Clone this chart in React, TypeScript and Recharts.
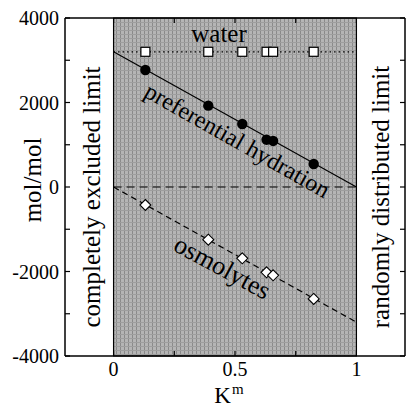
import { ComposedChart, Line, Scatter, XAxis, YAxis, ReferenceArea } from 'recharts';

// measured points (K^m vs mol/mol)
const kValues = [0.131, 0.39, 0.53, 0.63, 0.657, 0.824];
const waterValues = [3200, 3200, 3200, 3200, 3200, 3200];
const hydrationValues = [2770, 1925, 1490, 1120, 1090, 545];
const osmolyteValues = [-426, -1247, -1688, -2020, -2090, -2650];

// straight reference lines over 0..1
const fitK = [0, 1];
const waterFit = [3200, 3200];
const hydrationFit = [3200, 0];
const zeroFit = [0, 0];
const osmolyteFit = [0, -3200];

const xTicks = [0, 0.25, 0.5, 0.75, 1];
const xTickLabels = ['0', '0.5', '1'];
const yTicks = [-4000, -3000, -2000, -1000, 0, 1000, 2000, 3000, 4000];
const yTickLabels = [-4000, -2000, 0, 2000, 4000];

const FONT = "'Liberation Serif', 'Times New Roman', Times, 'Noto Serif', 'DejaVu Serif', serif";

const toPoints = (xs: number[], ys: number[]) => xs.map((x, i) => ({ x, y: ys[i] }));

const BottomTick = ({ x, y, payload }: any) => {
  const label = String(payload.value);
  return (
    <g>
      <line x1={x} x2={x} y1={y} y2={y - 5} stroke="#000" strokeWidth={1.2} />
      {xTickLabels.includes(label) && (
        <text x={x} y={y + 20} textAnchor="middle" fontSize={20} fontFamily={FONT} fill="#000">
          {label}
        </text>
      )}
    </g>
  );
};

const TopTick = ({ x, y }: any) => (
  <line x1={x} x2={x} y1={y} y2={y + 5} stroke="#000" strokeWidth={1.2} />
);

const LeftTick = ({ x, y, payload }: any) => (
  <g>
    <line x1={x} x2={x + 5} y1={y} y2={y} stroke="#000" strokeWidth={1.2} />
    {yTickLabels.includes(payload.value) && (
      <text x={x - 6} y={y} dy="0.35em" textAnchor="end" fontSize={20} fontFamily={FONT} fill="#000">
        {payload.value}
      </text>
    )}
  </g>
);

const RightTick = ({ x, y }: any) => (
  <line x1={x} x2={x - 5} y1={y} y2={y} stroke="#000" strokeWidth={1.2} />
);

const Square = ({ cx, cy }: any) => (
  <rect x={cx - 4.5} y={cy - 4.5} width={9} height={9} fill="#fff" stroke="#000" strokeWidth={1.2} />
);
const Dot = ({ cx, cy }: any) => <circle cx={cx} cy={cy} r={5.2} fill="#000" />;
const Diamond = ({ cx, cy }: any) => (
  <path
    d={`M${cx},${cy - 5.5}L${cx + 5.5},${cy}L${cx},${cy + 5.5}L${cx - 5.5},${cy}Z`}
    fill="#fff"
    stroke="#000"
    strokeWidth={1.1}
  />
);

export default function App() {
  const axisLine = { stroke: '#000', strokeWidth: 1.5 };
  return (
    <div style={{ position: 'absolute', left: 0, top: 0, width: 406, height: 409, fontFamily: FONT }}>
      <svg width={0} height={0} style={{ position: 'absolute' }}>
        <defs>
          <pattern id="shade" width={4} height={4} patternUnits="userSpaceOnUse">
            <rect width={4} height={4} fill="#b5b5b5" />
            <rect x={0} width={1} height={4} fill="#8a8a8a" />
            <rect y={2} width={4} height={1} fill="#9e9e9e" />
          </pattern>
        </defs>
      </svg>
      <ComposedChart width={406} height={409} margin={{ top: 17, right: 0, bottom: 0, left: 0 }}>
        <XAxis
          xAxisId={0}
          dataKey="x"
          type="number"
          domain={[-0.2, 1.2]}
          ticks={xTicks}
          interval={0}
          height={53}
          tickSize={0}
          tickMargin={0}
          tickLine={false}
          axisLine={axisLine}
          tick={BottomTick}
          allowDataOverflow
        />
        <XAxis
          xAxisId="top"
          orientation="top"
          dataKey="x"
          type="number"
          domain={[-0.2, 1.2]}
          ticks={xTicks}
          interval={0}
          height={1}
          tickSize={0}
          tickMargin={0}
          tickLine={false}
          axisLine={axisLine}
          tick={TopTick}
          allowDataOverflow
        />
        <YAxis
          yAxisId={0}
          type="number"
          domain={[-4000, 4000]}
          ticks={yTicks}
          interval={0}
          width={65}
          tickSize={0}
          tickMargin={0}
          tickLine={false}
          axisLine={axisLine}
          tick={LeftTick}
          allowDataOverflow
        />
        <YAxis
          yAxisId="right"
          orientation="right"
          type="number"
          domain={[-4000, 4000]}
          ticks={yTicks}
          interval={0}
          width={1}
          tickSize={0}
          tickMargin={0}
          tickLine={false}
          axisLine={axisLine}
          tick={RightTick}
          allowDataOverflow
        />
        <ReferenceArea
          x1={0}
          x2={1}
          y1={-4000}
          y2={4000}
          fill="url(#shade)"
          fillOpacity={1}
          stroke="#000"
          strokeWidth={1.2}
        />
        <Line data={toPoints(fitK, waterFit)} dataKey="y" stroke="#000" strokeWidth={1.2} strokeDasharray="1.5 3" dot={false} isAnimationActive={false} />
        <Line data={toPoints(fitK, hydrationFit)} dataKey="y" stroke="#000" strokeWidth={1.2} dot={false} isAnimationActive={false} />
        <Line data={toPoints(fitK, zeroFit)} dataKey="y" stroke="#000" strokeWidth={1.2} strokeDasharray="8 5" dot={false} isAnimationActive={false} />
        <Line data={toPoints(fitK, osmolyteFit)} dataKey="y" stroke="#000" strokeWidth={1.2} strokeDasharray="6 4" dot={false} isAnimationActive={false} />
        <Scatter data={toPoints(kValues, waterValues)} dataKey="y" shape={Square} isAnimationActive={false} />
        <Scatter data={toPoints(kValues, hydrationValues)} dataKey="y" shape={Dot} isAnimationActive={false} />
        <Scatter data={toPoints(kValues, osmolyteValues)} dataKey="y" shape={Diamond} isAnimationActive={false} />
      </ComposedChart>
      <svg
        width={406}
        height={409}
        style={{ position: 'absolute', left: 0, top: 0, pointerEvents: 'none' }}
        fontFamily={FONT}
        fill="#000"
      >
        <text x={219} y={42} textAnchor="middle" fontSize={25}>water</text>
        <text x={237} y={141} dy="0.3em" textAnchor="middle" fontSize={24} transform="rotate(29.5 237 141)">
          preferential hydration
        </text>
        <text x={222} y={268} dy="0.3em" textAnchor="middle" fontSize={26} transform="rotate(28.5 222 268)">
          osmolytes
        </text>
        <text x={92} y={197} dy="0.3em" textAnchor="middle" fontSize={25} transform="rotate(-90 92 197)">
          completely excluded limit
        </text>
        <text x={381} y={197} dy="0.3em" textAnchor="middle" fontSize={25} transform="rotate(-90 381 197)">
          randomly distributed limit
        </text>
        <text x={33} y={180} dy="0.3em" textAnchor="middle" fontSize={25} transform="rotate(-90 33 180)">
          mol/mol
        </text>
        <text x={229} y={403} textAnchor="middle" fontSize={23}>
          K<tspan dx={1} dy={-9} fontSize={15}>m</tspan>
        </text>
      </svg>
    </div>
  );
}
